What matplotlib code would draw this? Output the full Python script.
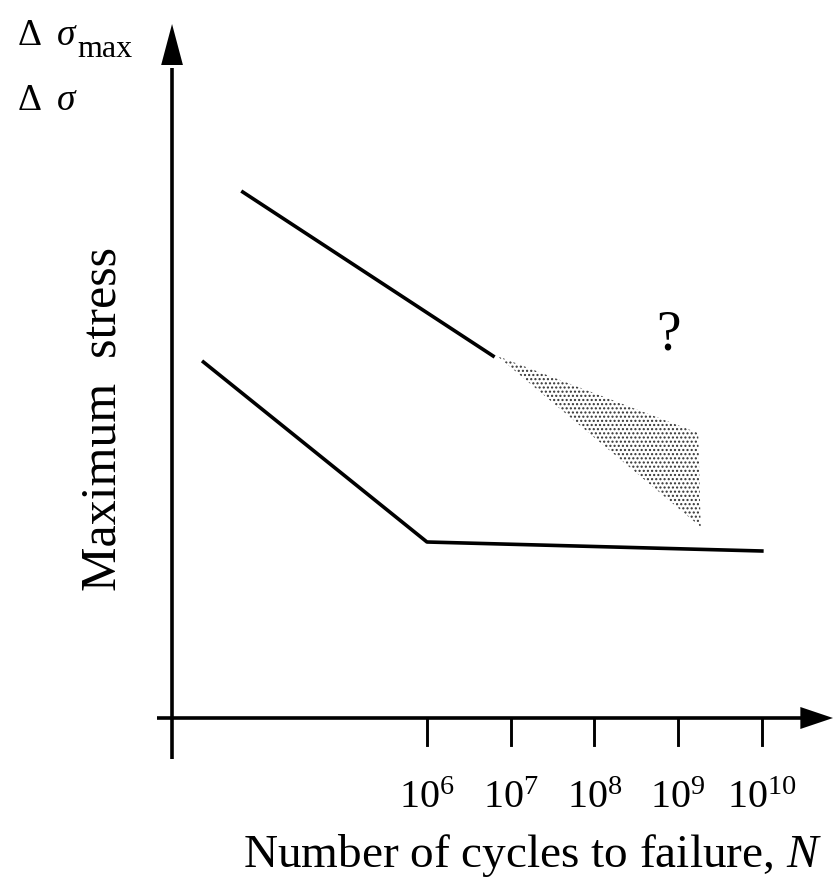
import numpy as np
import matplotlib.pyplot as plt

plt.rcParams['font.family'] = ['Liberation Serif', 'DejaVu Serif']
plt.rcParams['mathtext.fontset'] = 'custom'
plt.rcParams['mathtext.rm'] = 'Liberation Serif'
plt.rcParams['mathtext.it'] = 'Liberation Serif:italic'
plt.rcParams['hatch.color'] = '#333333'
plt.rcParams['hatch.linewidth'] = 1.0

# x in log10(N), y is schematic stress
upper_logN = [3.80, 6.79]
upper_stress = [5.26, 3.62]

lower_logN = [3.33, 6.0, 10.0]
lower_stress = [3.56, 1.76, 1.67]

band_logN = [6.84, 9.24, 9.27]
band_stress = [3.62, 2.85, 1.91]

tick_exps = [6, 7, 8, 9, 10]

fig = plt.figure(figsize=(8.33, 8.79), dpi=100)
ax = fig.add_axes([0, 0, 1, 1])
ax.set_xlim(0.90, 10.85)
ax.set_ylim(-1.60, 7.19)
ax.axis('off')

lw = 2.6
# axes with arrows
ax.plot([2.955, 2.955], [-0.41, 6.5], color='black', lw=lw, solid_capstyle='butt')
ax.plot([2.776, 10.5], [0, 0], color='black', lw=lw, solid_capstyle='butt')
ax.fill([2.955 - 0.13, 2.955 + 0.13, 2.955], [6.53, 6.53, 6.94], color='black', lw=0)
ax.fill([10.46, 10.46, 10.85], [0.11, -0.11, 0], color='black', lw=0)

for e in tick_exps:
    ax.plot([e, e], [0, -0.27], color='black', lw=lw * 0.8)
    ax.text(e, -0.89, r'$10^{%d}$' % e, ha='center', va='baseline', fontsize=29)

ax.plot(upper_logN, upper_stress, color='black', lw=lw)
ax.plot(lower_logN, lower_stress, color='black', lw=lw)
ax.fill(band_logN, band_stress, facecolor='none', edgecolor='#333333', lw=0, hatch='....')

ax.text(8.88, 3.84, '?', ha='center', va='center', fontsize=40)

ax.text(10.72, -1.48, r'Number of cycles to failure, $N$', ha='right', va='baseline', fontsize=34)
ax.text(2.13, 3.0, 'Maximum  stress', rotation=90, ha='center', va='center', fontsize=36)
ax.text(1.10, 6.74, r'$\Delta\;\;\sigma$', ha='left', va='baseline', fontsize=27)
ax.text(1.83, 6.62, 'max', ha='left', va='baseline', fontsize=23)
ax.text(1.10, 6.09, r'$\Delta\;\;\sigma$', ha='left', va='baseline', fontsize=27)

fig.savefig('out.png', dpi=100)
